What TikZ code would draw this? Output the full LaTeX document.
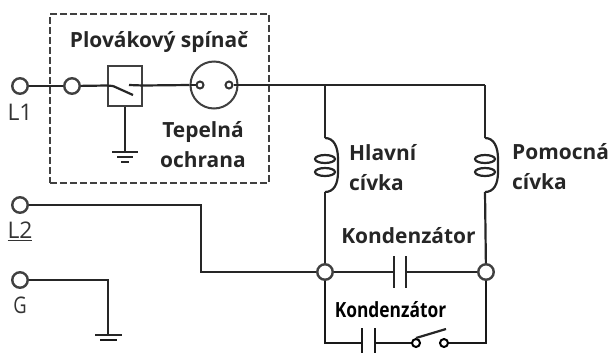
\documentclass[tikz,border=0pt]{standalone}
\usepackage{fontspec}
\setmainfont{Open Sans}
\usetikzlibrary{arrows}

\begin{document}
\begin{tikzpicture}[x=1bp,y=-1bp]
	\tikzstyle{wire}=[line width=2.2bp, draw=black!85]
	\tikzstyle{heavy}=[line width=2.8bp, draw=black!90]
	\tikzstyle{term}=[circle, minimum size = 15.5bp, inner sep=0mm, line width=2.4bp, draw=black!75, fill=white, node distance = 52bp]
	\tikzstyle{pin}=[circle, minimum size = 7bp, inner sep=0mm, line width=2bp, draw=black!80, fill=white, node distance = 29bp]
	\tikzstyle{title}=[font=\fontsize{21}{30}\selectfont\bfseries, text=black!85, inner sep=0mm, align=left]
	\tikzstyle{pinlabel}=[font=\fontsize{23}{24}\selectfont, text=black!80, inner sep=0mm]
	\useasboundingbox (0,0) rectangle (612,353);
	  \node[draw=black!75, line width=2bp, dash pattern=on 7bp off 3bp, minimum width=219bp, minimum height=169bp, inner sep=0mm] (guard) at (159.5,98.5) {};
	  \node[title] (floatlabel) at (159,42) {Plovákový spínač};
	  \node[title, align=center] (heatlabel) at (203,145) {Tepelná\\ochrana};
	  % terminals
	  \node[term] (l1) at (20,86) [label={[pinlabel,yshift=-9bp]below:L1}] {};
	  \node[term] (in) [right of=l1] {};
	  \node[term] (l2) at (20,205) [label={[pinlabel,yshift=-8bp]below:\underline{L2}}] {};
	  \node[term] (g) at (20,280) [label={[pinlabel,yshift=-8bp,xscale=.8]below:G}] {};
	  \node[term] (left) at (325,272) {};
	  \node[term] (right) at (486,272) {};
	  % float switch
	  \node[draw=black!75, line width=2bp, fill=white, minimum width=34bp, minimum height=40bp, inner sep=0mm] (float) at (125,85.5) {};
	  \coordinate (bladea) at (113,86);
	  \coordinate (bladeb) at (133,95);
	  \coordinate (contact) at (129,85);
	  % thermal protector
	  \node[circle, draw=black!75, line width=2bp, fill=white, minimum size=47bp, inner sep=0mm] (heat) at (214,85) {};
	  \node[pin] (heata) at (200,85) {};
	  \node[pin] (heatb) [right of=heata] {};
	  % grounds
	  \coordinate (gnda) at (125,152);
	  \coordinate (gndb) at (108,335);
	  % rails
	  \coordinate (topleft) at (325,85);
	  \coordinate (topright) at (485,85);
	  \coordinate (cola) at (325,138);
	  \coordinate (colb) at (325,192);
	  \coordinate (cora) at (485,138);
	  \coordinate (corb) at (485,192);
	  \coordinate (l2a) at (201,205);
	  \coordinate (l2b) at (201,272);
	  \coordinate (ga) at (108,280);
	  % capacitors and lower switch
	  \coordinate (capa) at (394,272);
	  \coordinate (capb) at (406,272);
	  \coordinate (capc) at (362,343);
	  \coordinate (capd) at (375,343);
	  \coordinate (lowleft) at (325,343);
	  \coordinate (lowright) at (486,343);
	  \node[pin, minimum size=8bp, draw=black, node distance=28bp] (swa) at (416,343) {};
	  \node[pin, minimum size=8bp, draw=black, node distance=28bp] (swb) [right of=swa] {};
	  \node[title] (mainlabel) at (349,168) [anchor=west] {Hlavní\\cívka};
	  \node[title] (auxlabel) at (512,167) [anchor=west] {Pomocná\\cívka};
	  \node[title] (caplabel) at (408.5,236) {Kondenzátor};
	  \node[title, text=black, xscale=.83] (lowlabel) at (390.5,310) {Kondenzátor};
	  \path[wire]
	    (l1) edge (in)
	    (in) edge (float.west)
	    (float.west) edge (bladea)
	    (bladea) edge (bladeb)
	    (float.east) edge (contact)
	    (float.east) edge (heat.west)
	    (heat.west) edge (heata)
	    (heatb) edge (heat.east)
	    (heat.east) edge (topleft)
	    (topleft) edge (topright)
	    (float.south) edge (gnda)
	    (topleft) edge (cola)
	    (colb) edge (left)
	    (topright) edge (cora)
	    (corb) edge (right);
	  \draw[wire] (l2) -- (l2a) -- (l2b) -- (left);
	  \draw[wire] (g) -- (ga) -- (gndb);
	  \draw[heavy] (left) -- (lowleft) -- (capc);
	  \draw[heavy] (capd) -- (swa);
	  \draw[heavy] (swb) -- (lowright) -- (right);
	  \draw[wire] (swa) ++(0,-5) -- ++(30,-9);
	  \draw[wire] (left) -- (capa);
	  \draw[wire] (capb) -- (right);
	  % plates
	  \draw[wire] (capa) ++(0,-16) -- ++(0,32);
	  \draw[wire] (capb) ++(0,-16) -- ++(0,32);
	  \draw[heavy] (capc) ++(0,-15) -- ++(0,25);
	  \draw[heavy] (capd) ++(0,-15) -- ++(0,25);
	  \draw[wire] (gnda) ++(-13,0) -- ++(26,0) ++(-21,5) -- ++(16,0) ++(-12,5) -- ++(8,0);
	  \draw[wire] (gndb) ++(-13,0) -- ++(27,0);
	  \draw[heavy] (gndb) ++(-8,5) -- ++(17,0);
	  % coils
	  \foreach \a/\b in {cola/colb,cora/corb} {
	    \draw[wire] (\a) .. controls +(9,0) and +(0,-12) .. ++(13,21) -- ++(0,13) .. controls +(0,12) and +(9,0) .. (\b);
	    \draw[wire] (\a) +(0,21) ellipse (10 and 4);
	    \draw[wire] (\a) +(0,34) ellipse (10 and 4);
	  }
\end{tikzpicture}
\end{document}
